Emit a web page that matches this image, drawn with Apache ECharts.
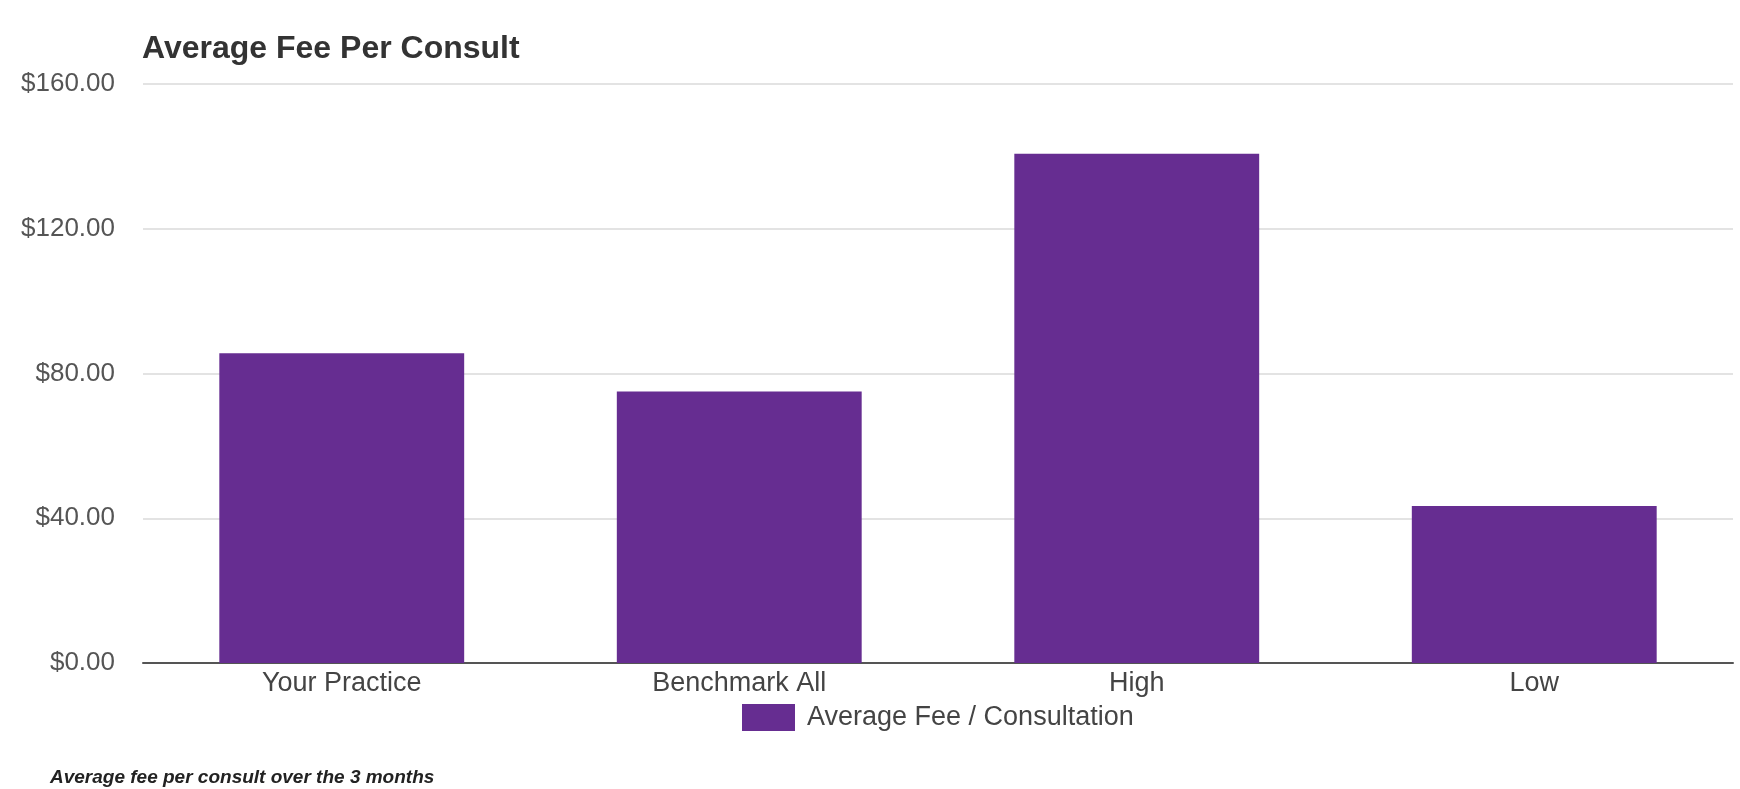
<!DOCTYPE html>
<html>
<head>
<meta charset="utf-8">
<script src="https://cdn.jsdelivr.net/npm/echarts@6/dist/echarts.min.js"></script>
<style>
  html, body { margin: 0; padding: 0; background: #fff; }
  #chart { width: 1740px; height: 789px; }
</style>
</head>
<body>
<div id="chart"></div>
<script>
// chart data
var categories = ['Your Practice', 'Benchmark All', 'High', 'Low'];
var feeValues = [85.6, 75.0, 140.7, 43.4];
var seriesName = 'Average Fee / Consultation';
var titleText = 'Average Fee Per Consult';
var footnoteText = 'Average fee per consult over the 3 months';

var chart = echarts.init(document.getElementById('chart'));
var font = '"Liberation Sans", Arial, sans-serif';

chart.setOption({
    backgroundColor: '#fff',
    textStyle: { fontFamily: font },
    title: [
        {
            text: titleText,
            left: 137,
            top: 28,
            textStyle: { fontSize: 32, fontWeight: 'bold', color: '#333', fontFamily: font }
        },
        {
            text: footnoteText,
            left: 45,
            top: 763,
            textStyle: { fontSize: 19, fontWeight: 'bold', fontStyle: 'italic', color: '#222', fontFamily: font }
        }
    ],
    legend: {
        data: [seriesName],
        left: 737,
        top: 699,
        itemWidth: 53,
        itemHeight: 27,
        icon: 'rect',
        textStyle: { fontSize: 27, color: '#444', padding: [0, 0, 0, 7], fontFamily: font }
    },
    grid: {
        left: 143,
        right: 7,
        top: 84,
        bottom: 126,
        containLabel: false
    },
    xAxis: {
        type: 'category',
        data: categories,
        axisTick: { show: false },
        axisLine: { lineStyle: { color: '#555', width: 2 } },
        axisLabel: { fontSize: 27, color: '#444', margin: 7, fontFamily: font }
    },
    yAxis: {
        type: 'value',
        min: 0,
        max: 160,
        interval: 40,
        axisLine: { show: false },
        axisTick: { show: false },
        splitLine: { lineStyle: { color: '#e3e3e3', width: 2 } },
        axisLabel: {
            fontSize: 26,
            color: '#555',
            margin: 28,
            padding: [4, 0, 0, 0],
            fontFamily: font,
            formatter: function (v) { return '$' + v.toFixed(2); }
        }
    },
    series: [
        {
            name: seriesName,
            type: 'bar',
            data: feeValues,
            barCategoryGap: '38.4%',
            itemStyle: { color: '#662d91' }
        }
    ]
});
</script>
</body>
</html>
